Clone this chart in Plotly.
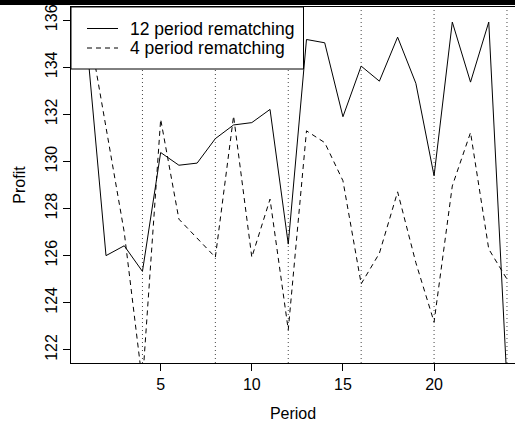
import plotly.graph_objects as go

periods = list(range(1, 25))
profit_12 = [134.6, 126.0, 126.42, 125.33, 130.38, 129.84, 129.93, 130.97, 131.55, 131.65,
             132.21, 126.49, 135.18, 135.04, 131.9, 134.05, 133.41, 135.28, 133.32, 129.39,
             135.92, 133.37, 135.92, 120.6]
profit_4 = [135.9, 131.43, 127.0, 120.6, 131.79, 127.55, 126.75, 125.93, 131.93, 125.93,
            128.4, 122.85, 131.3, 130.8, 129.18, 124.8, 126.1, 128.71, 125.7, 123.18,
            128.96, 131.23, 126.28, 125.0]
rematch_points = [4, 8, 12, 16, 20, 24]
x_ticks = [5, 10, 15, 20]
y_ticks = [122, 124, 126, 128, 130, 132, 134, 136]
legend_labels = ["12 period rematching", "4 period rematching"]

FONT = "Liberation Sans, Arial, Helvetica, sans-serif"
DASH = "5px,4px"

W, H = 515, 423
ML, MT, MB, MR = 71, 7, 60, 0
PW, PH = W - ML - MR, H - MT - MB

def px_x(p):
    return (p - ML) / PW

def px_y(p):
    return (H - MB - p) / PH

fig = go.Figure()

fig.add_trace(go.Scatter(x=periods, y=profit_12, mode="lines",
                         line=dict(color="black", width=1), name=legend_labels[0],
                         showlegend=False, hoverinfo="skip"))
fig.add_trace(go.Scatter(x=periods, y=profit_4, mode="lines",
                         line=dict(color="black", width=1, dash=DASH),
                         name=legend_labels[1], showlegend=False, hoverinfo="skip"))

shapes = []
for r in rematch_points:
    shapes.append(dict(type="line", xref="x", yref="paper", x0=r, x1=r, y0=0, y1=1,
                       line=dict(color="#444444", width=1, dash="1px,3px"), layer="below"))

# legend box
shapes.append(dict(type="rect", xref="paper", yref="paper",
                   x0=0, x1=px_x(303.5), y0=px_y(69), y1=1,
                   fillcolor="white", line=dict(color="black", width=1), layer="above"))
shapes.append(dict(type="line", xref="paper", yref="paper",
                   x0=px_x(87), x1=px_x(118), y0=px_y(28.5), y1=px_y(28.5),
                   line=dict(color="black", width=1), layer="above"))
shapes.append(dict(type="line", xref="paper", yref="paper",
                   x0=px_x(87), x1=px_x(118), y0=px_y(48), y1=px_y(48),
                   line=dict(color="black", width=1, dash=DASH), layer="above"))

annotations = []
for lbl, yy in zip(legend_labels, [28.5, 48]):
    annotations.append(dict(xref="paper", yref="paper", x=px_x(128), y=px_y(yy),
                            text=lbl, showarrow=False, xanchor="left", yanchor="middle",
                            font=dict(family=FONT, size=17.5, color="black")))

fig.update_layout(
    width=W, height=H,
    margin=dict(l=ML, r=MR, t=MT, b=MB, pad=0, autoexpand=False),
    paper_bgcolor="white", plot_bgcolor="white",
    shapes=shapes, annotations=annotations,
    showlegend=False, hovermode=False,
    font=dict(family=FONT, size=16, color="black"),
    xaxis=dict(range=[0.08, 24.44], tickvals=x_ticks, ticks="outside", ticklen=7,
               tickcolor="black", tickwidth=1, showgrid=False, zeroline=False,
               showline=True, linecolor="black", linewidth=1, mirror=True,
               automargin=False, tickfont=dict(family=FONT, size=16),
               title=dict(text="Period", font=dict(family=FONT, size=16), standoff=15)),
    yaxis=dict(range=[121.44, 136.56], tickvals=y_ticks, ticks="outside", ticklen=7,
               tickcolor="black", tickwidth=1, showgrid=False, zeroline=False,
               showline=True, linecolor="black", linewidth=1, mirror=False,
               automargin=False, tickangle=-90, tickfont=dict(family=FONT, size=16),
               title=dict(text="Profit", font=dict(family=FONT, size=16), standoff=12)),
)

post = (
    "document.body.style.margin='0px';"
    "var band=document.createElement('div');"
    "band.style.cssText='position:absolute;left:0;top:0;width:515px;height:5px;"
    "background:#000;z-index:100;pointer-events:none';"
    "document.body.appendChild(band);"
)
fig.write_html("out.html", config={"displayModeBar": False}, post_script=post)
